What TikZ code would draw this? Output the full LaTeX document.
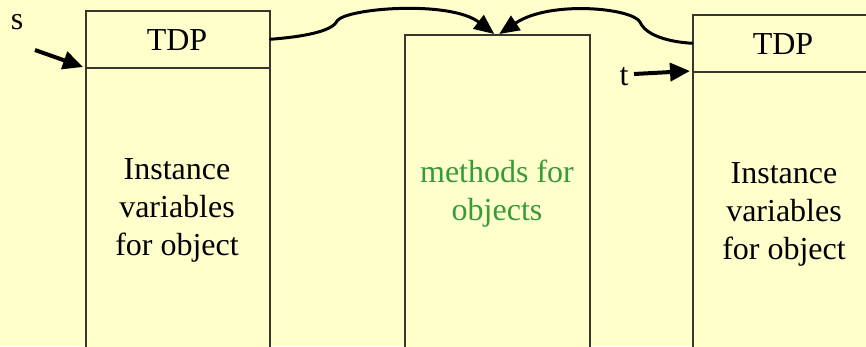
\documentclass[tikz,border=0pt]{standalone}
\usepackage{fontspec}
\setmainfont{Liberation Serif}
\newfontfamily\tnr{Liberation Serif}
\usetikzlibrary{arrows.meta}
\definecolor{bg}{RGB}{255,255,204}
\definecolor{edge}{RGB}{55,55,45}
\definecolor{mgreen}{RGB}{55,155,55}
\tikzset{
  box/.style={draw=edge, line width=1.5pt, fill=bg, inner sep=0pt, anchor=north west},
  lbl/.style={font=\tnr\fontsize{32}{38}\selectfont, align=center, inner sep=0pt},
  conn/.style={line width=3pt, line cap=round, -{Triangle[length=20pt,width=17pt]}},
  ptr/.style={line width=4pt, -{Triangle[length=20pt,width=18pt]}}
}
\begin{document}
\begin{tikzpicture}[x=1pt,y=-1pt]
\fill[bg] (0,0) rectangle (866,346);
\useasboundingbox (0,0) rectangle (866,346);
\clip (0,0) rectangle (866,346);
% left object
\node[box, minimum width=184pt, minimum height=57pt] (lt) at (85,10) {};
\node[box, minimum width=184pt, minimum height=300pt] (lb) at (85,67) {};
\node[lbl] (ltxt) at (177,40) {TDP};
\node[lbl] (lbody) at (177,210) {Instance\\variables\\for object};
% middle
\node[box, minimum width=185pt, minimum height=330pt] (mb) at (404,34) {};
\node[lbl, text=mgreen] (mtxt) at (497,194) {methods for\\objects};
% right object
\node[box, minimum width=200pt, minimum height=57pt] (rt) at (692,14) {};
\node[box, minimum width=200pt, minimum height=300pt] (rb) at (692,71) {};
\node[lbl] (rtxt) at (783,44) {TDP};
\node[lbl] (rbody) at (784,214) {Instance\\variables\\for object};
% labels s and t
\node[lbl] (s) at (17,22) {s};
\node[lbl] (t) at (624,77) {t};
\coordinate (sfrom) at (35,50);
\coordinate (tfrom) at (634,74);
\draw[ptr] (sfrom) -- ([xshift=-2pt]lb.north west);
\draw[ptr] (tfrom) -- ([xshift=-2pt]rb.north west);
% connectors
\coordinate (ljoin) at (337,21);
\coordinate (rjoin) at (640,22);
\draw[conn] (lt.east) .. controls (300,37) and (332,32) .. (ljoin)
  .. controls (346,8) and (450,0) .. ([xshift=-3pt]mb.north);
\draw[conn] (rt.west) .. controls (670,42) and (646,36) .. (rjoin)
  .. controls (632,8) and (550,0) .. ([xshift=2pt]mb.north);
\end{tikzpicture}
\end{document}
